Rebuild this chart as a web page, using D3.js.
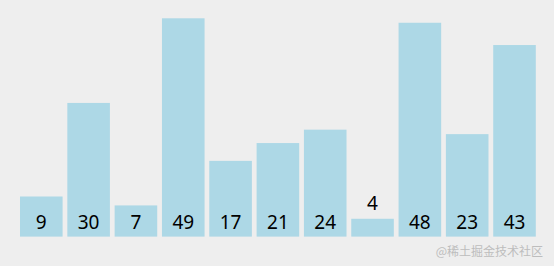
<!DOCTYPE html>
<html><head><meta charset="utf-8">
<script src="https://cdn.jsdelivr.net/npm/d3@7"></script>
<style>html,body{margin:0;padding:0;background:#eeeeee;}svg{display:block;}</style>
</head><body>
<svg id="c" width="554" height="266"></svg>
<script>
const categories = ["a","b","c","d","e","f","g","h","i","j","k"];
const values = [9,30,7,49,17,21,24,4,48,23,43];
const watermark = "@稀土掘金技术社区";

const svg = d3.select("#c");
svg.append("rect").attr("width",554).attr("height",266).attr("fill","#eeeeee");
const x = d3.scaleBand().domain(categories).range([20, 535.8]).paddingInner(0.1).paddingOuter(0);
const y = d3.scaleLinear().domain([0, 49]).range([236.6, 18.3]);

svg.selectAll("rect.bar").data(values).join("rect").attr("class","bar")
  .attr("x",(d,i)=>x(categories[i])).attr("width",x.bandwidth())
  .attr("y",d=>y(d)).attr("height",d=>y(0)-y(d))
  .attr("fill","#add8e6");

svg.selectAll("text.lbl").data(values).join("text").attr("class","lbl")
  .attr("x",(d,i)=>x(categories[i])+x.bandwidth()/2)
  .attr("y",d=> (y(0)-y(d) < 25) ? y(d)-8.5 : 229)
  .attr("text-anchor","middle")
  .attr("font-family","'Noto Sans', 'Open Sans', sans-serif")
  .attr("font-size",19)
  .attr("fill","#000")
  .text(d=>d);

svg.append("text").attr("x",543).attr("y",256).attr("text-anchor","end")
  .attr("font-family","'Noto Sans CJK SC', sans-serif").attr("font-size",12)
  .attr("fill","#bdbdbd").text(watermark);
</script>
</body></html>
